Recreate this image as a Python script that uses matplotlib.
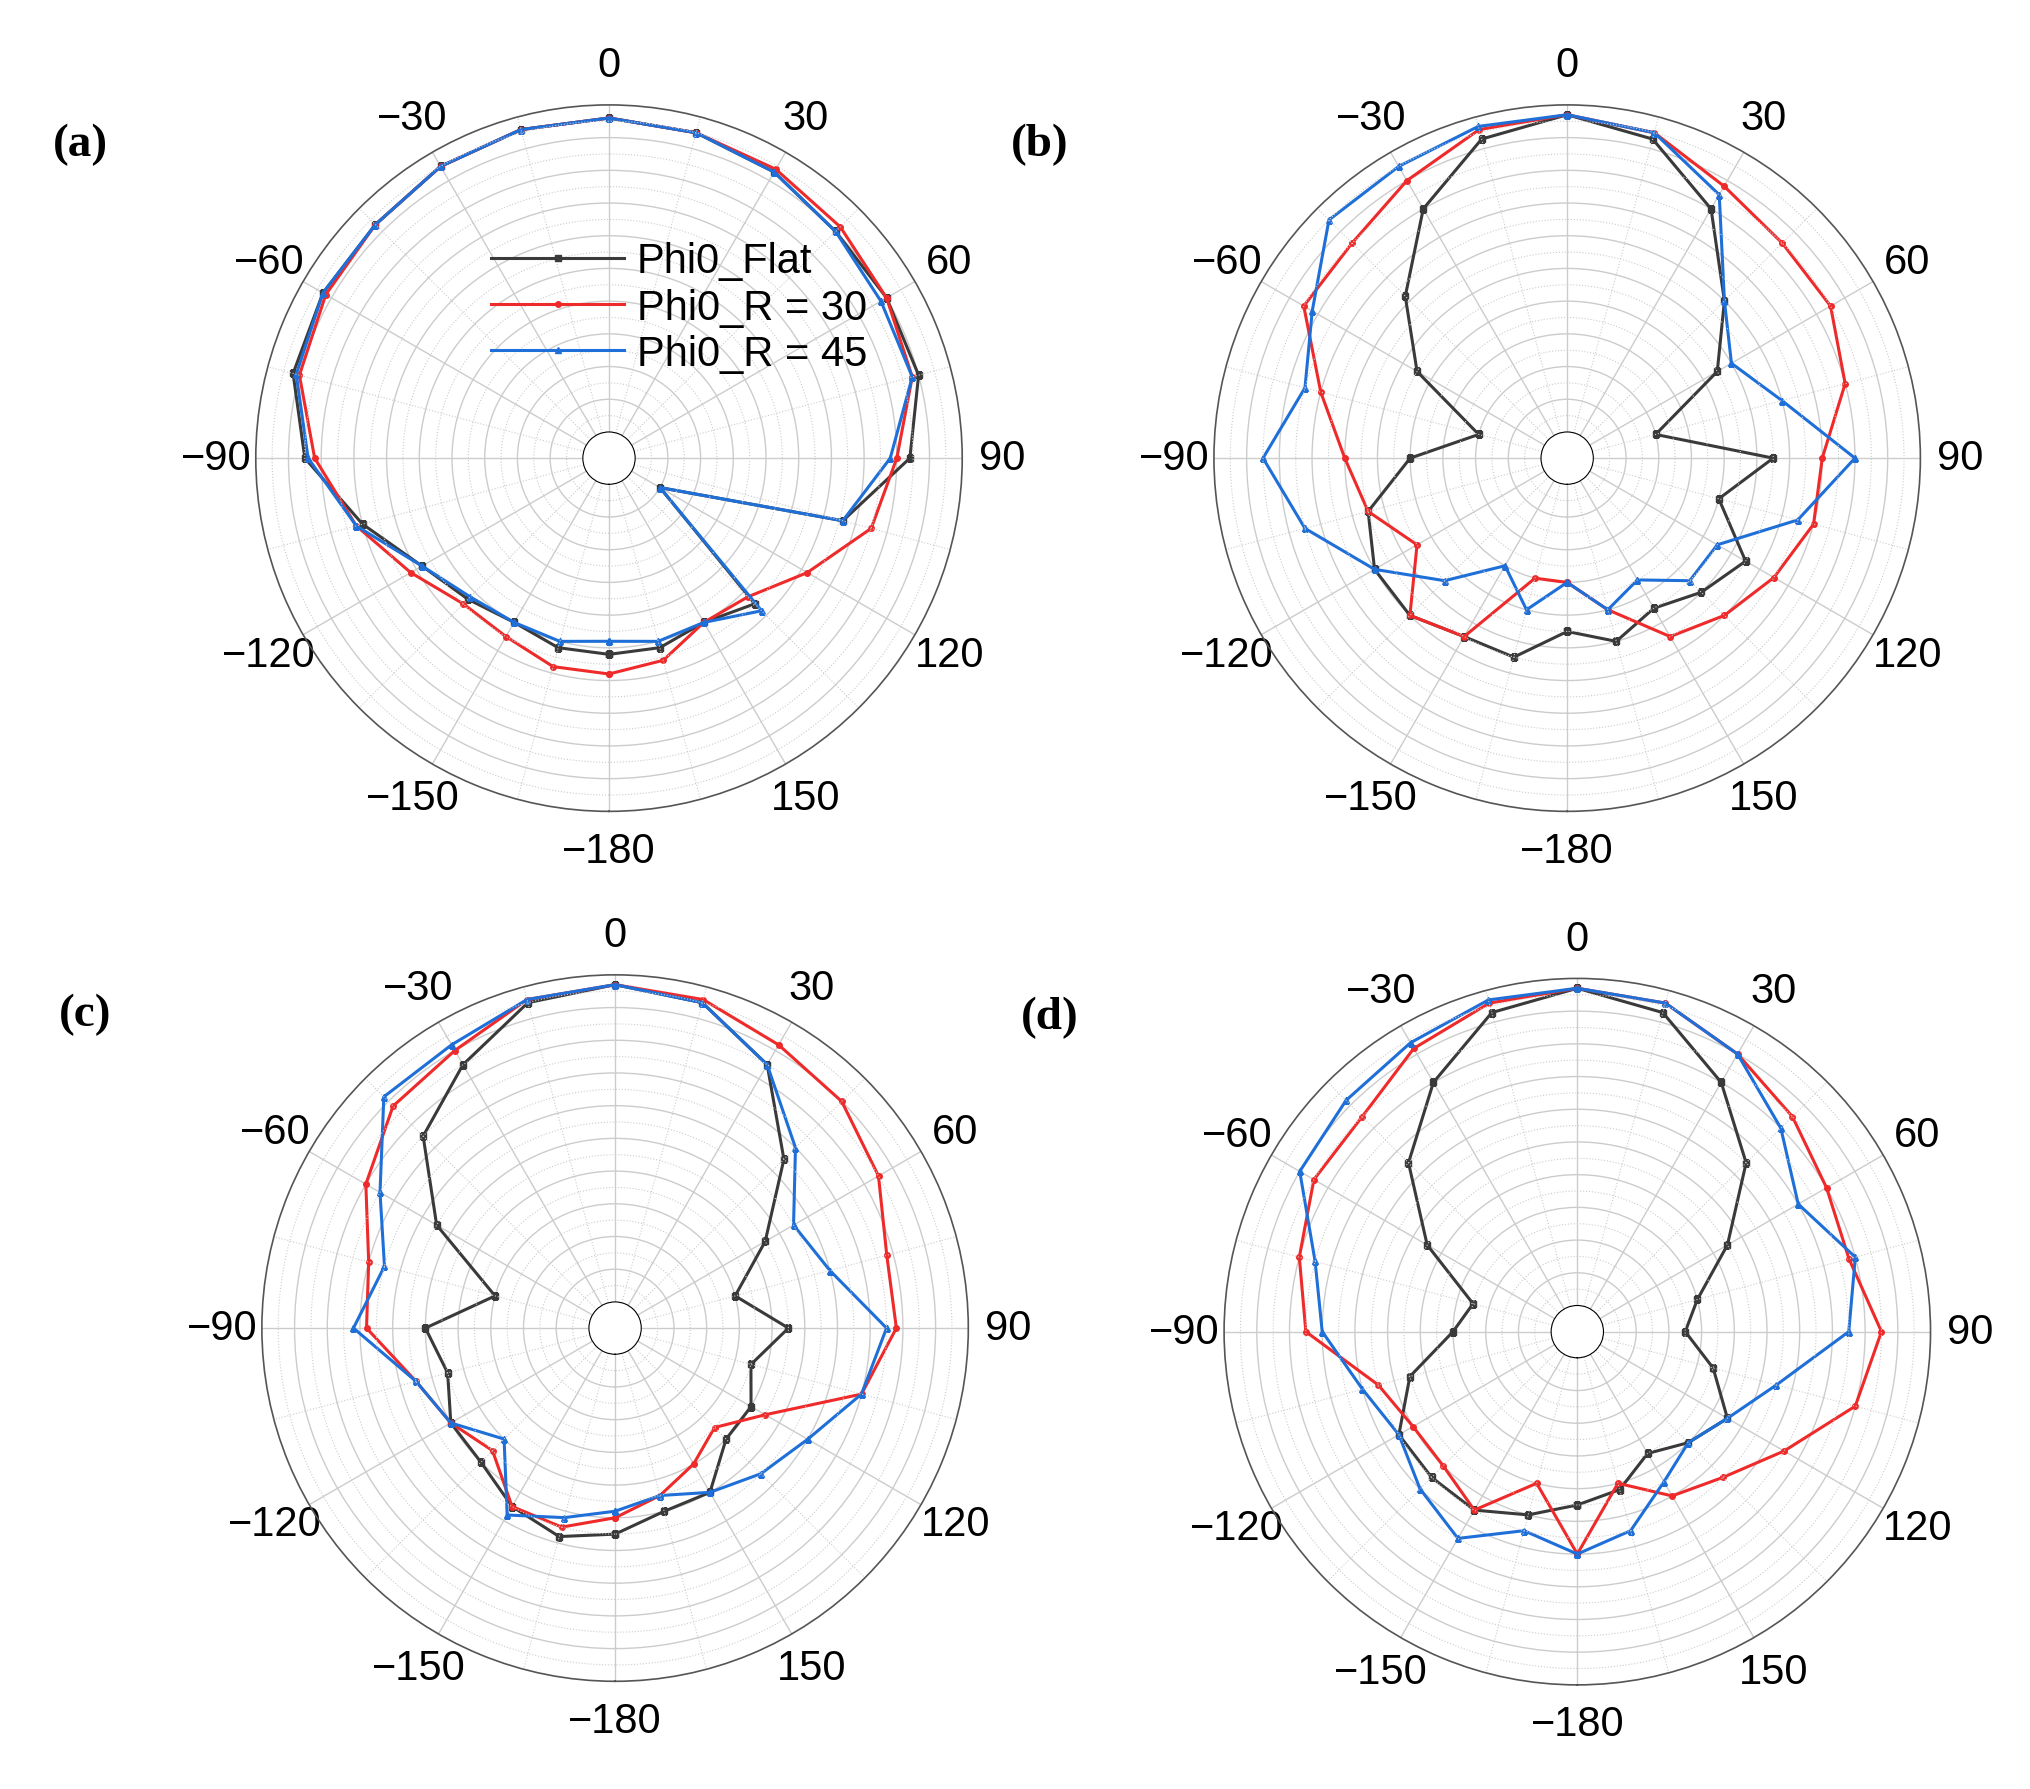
import numpy as np
import matplotlib
matplotlib.use("Agg")
import matplotlib.pyplot as plt

plt.rcParams['font.family'] = ['Liberation Sans', 'DejaVu Sans']

ANGLES = np.arange(-180, 181, 15)  # degrees, last equals first (closed curve)

# normalised radius, angles -180..180 step 15
A_FLAT = [0.52, 0.52, 0.50, 0.53, 0.58, 0.70, 0.85, 0.92, 0.93, 0.93, 0.95, 0.96, 0.96,
          0.95, 0.93, 0.90, 0.90, 0.90, 0.84, 0.66, 0.10, 0.55, 0.50, 0.52, 0.52]
A_R30 = [0.58, 0.58, 0.55, 0.55, 0.62, 0.72, 0.82, 0.90, 0.92, 0.93, 0.95, 0.96, 0.96,
         0.95, 0.94, 0.92, 0.90, 0.88, 0.80, 0.75, 0.62, 0.52, 0.50, 0.56, 0.58]
A_R45 = [0.48, 0.50, 0.50, 0.52, 0.58, 0.72, 0.84, 0.91, 0.93, 0.93, 0.95, 0.96, 0.96,
         0.95, 0.93, 0.90, 0.88, 0.88, 0.78, 0.66, 0.10, 0.58, 0.50, 0.50, 0.48]

B_FLAT = [0.45, 0.55, 0.55, 0.60, 0.60, 0.55, 0.40, 0.20, 0.45, 0.62, 0.80, 0.93, 0.97,
          0.93, 0.80, 0.60, 0.45, 0.20, 0.55, 0.40, 0.55, 0.50, 0.45, 0.50, 0.45]
B_R30 = [0.30, 0.30, 0.55, 0.60, 0.45, 0.55, 0.60, 0.70, 0.85, 0.85, 0.90, 0.96, 0.97,
         0.95, 0.88, 0.85, 0.85, 0.80, 0.70, 0.70, 0.65, 0.60, 0.55, 0.40, 0.30]
B_R45 = [0.30, 0.40, 0.30, 0.45, 0.60, 0.75, 0.85, 0.75, 0.82, 0.95, 0.95, 0.97, 0.97,
         0.95, 0.85, 0.60, 0.50, 0.60, 0.80, 0.65, 0.45, 0.45, 0.35, 0.40, 0.30]

C_FLAT = [0.55, 0.58, 0.55, 0.50, 0.50, 0.45, 0.50, 0.30, 0.55, 0.75, 0.85, 0.95, 0.97,
          0.95, 0.85, 0.65, 0.45, 0.30, 0.45, 0.35, 0.40, 0.40, 0.50, 0.50, 0.55]
C_R30 = [0.50, 0.55, 0.55, 0.45, 0.50, 0.55, 0.68, 0.70, 0.80, 0.88, 0.90, 0.96, 0.97,
         0.96, 0.92, 0.90, 0.85, 0.78, 0.78, 0.70, 0.45, 0.35, 0.40, 0.45, 0.50]
C_R45 = [0.48, 0.52, 0.58, 0.40, 0.50, 0.55, 0.72, 0.65, 0.75, 0.92, 0.92, 0.96, 0.97,
         0.95, 0.85, 0.70, 0.55, 0.60, 0.75, 0.70, 0.60, 0.55, 0.50, 0.45, 0.48]

D_FLAT = [0.45, 0.50, 0.55, 0.55, 0.55, 0.45, 0.30, 0.25, 0.45, 0.65, 0.80, 0.93, 0.97,
          0.93, 0.80, 0.65, 0.45, 0.30, 0.25, 0.35, 0.45, 0.40, 0.35, 0.42, 0.45]
D_R30 = [0.60, 0.40, 0.55, 0.50, 0.50, 0.55, 0.75, 0.80, 0.85, 0.85, 0.92, 0.96, 0.97,
         0.96, 0.90, 0.85, 0.80, 0.78, 0.85, 0.80, 0.65, 0.55, 0.50, 0.40, 0.60]
D_R45 = [0.60, 0.55, 0.65, 0.60, 0.55, 0.60, 0.70, 0.75, 0.90, 0.92, 0.94, 0.97, 0.97,
         0.96, 0.90, 0.80, 0.70, 0.80, 0.75, 0.55, 0.45, 0.40, 0.45, 0.55, 0.60]

PANELS = [("(a)", A_FLAT, A_R30, A_R45), ("(b)", B_FLAT, B_R30, B_R45),
          ("(c)", C_FLAT, C_R30, C_R45), ("(d)", D_FLAT, D_R30, D_R45)]
LABELS = ["Phi0_Flat", "Phi0_R = 30", "Phi0_R = 45"]
STYLES = [("#3a3a3a", "s"), ("#ee2a2a", "o"), ("#1f6fd8", "^")]

POS = [(0.126, 0.546), (0.598, 0.546), (0.129, 0.060), (0.603, 0.058)]
W, H = 0.348, 0.395

fig = plt.figure(figsize=(20.3, 17.9), dpi=100)
for (lbl, *series), (x0, y0) in zip(PANELS, POS):
    ax = fig.add_axes([x0, y0, W, H], projection="polar")
    ax.set_theta_zero_location("N")
    ax.set_theta_direction(-1)
    ax.set_xlim(-np.pi, np.pi)
    ax.set_rorigin(-0.08)
    ax.set_ylim(0, 1)
    th = np.deg2rad(ANGLES)
    for vals, name, (c, m) in zip(series, LABELS, STYLES):
        ax.plot(th, vals, color=c, lw=2.2, marker=m, ms=4, label=name)
    # grid
    ax.set_rticks(np.arange(0.1, 1.0, 0.1))
    ax.set_yticklabels([])
    ax.yaxis.grid(True, color="#cccccc", lw=1.0)
    circ = np.linspace(-np.pi, np.pi, 300)
    for r in np.arange(0.05, 1.0, 0.1):
        ax.plot(circ, [r] * 300, color="#cccccc", lw=0.8, ls=":")
    tk = np.arange(-180, 180, 30)
    ax.set_xticks(np.deg2rad(tk))
    ax.set_xticklabels([str(t).replace("-", "\u2212") for t in tk], fontsize=30)
    ax.tick_params(axis="x", pad=18)
    ax.xaxis.grid(True, color="#cccccc", lw=1.0)
    for t in np.arange(-165, 180, 30):
        ax.plot([np.deg2rad(t)] * 2, [0, 1], color="#cccccc", lw=0.8, ls=":")
    ax.set_ylim(0, 1)
    ax.spines["polar"].set_color("#555555")
    ax.spines["polar"].set_linewidth(1.2)
    fig.text(x0 - 0.10, y0 + H - 0.01, lbl, fontsize=34, fontweight="bold",
             family="Liberation Serif", va="top")
    if lbl == "(a)":
        ax.legend(loc="upper left", bbox_to_anchor=(0.28, 0.86), frameon=False,
                  fontsize=30, handlelength=3.2, handletextpad=0.3, labelspacing=0.15)

fig.savefig("out.png", dpi=100)
